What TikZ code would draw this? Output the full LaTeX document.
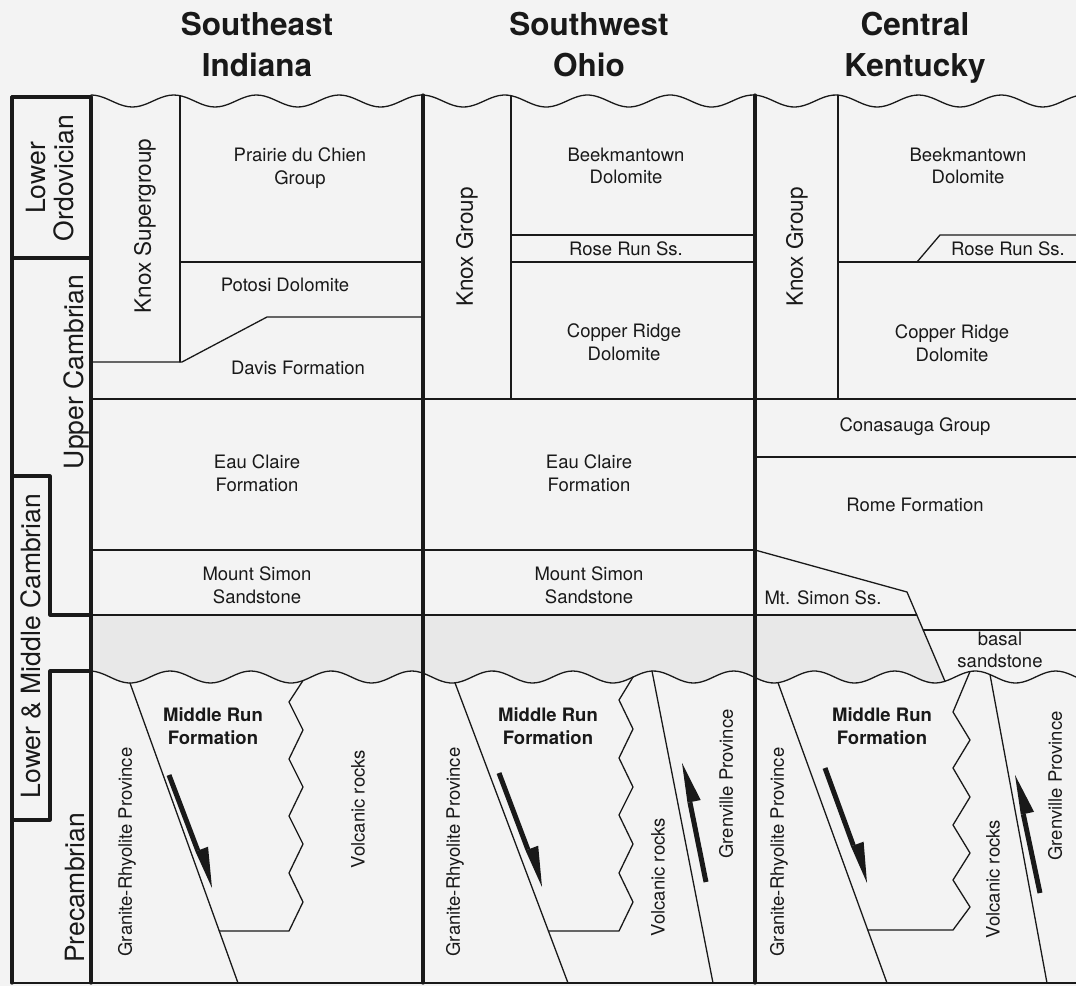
\documentclass[tikz,border=0pt]{standalone}
\usepackage{fontspec}
\setmainfont{TeX Gyre Heros}
\usepackage{tikz}
\definecolor{paper}{rgb}{0.953,0.953,0.953}
\definecolor{band}{rgb}{0.91,0.91,0.91}
\definecolor{ink}{rgb}{0.1,0.1,0.1}
\newcommand{\topwave}[1]{101-6*cos(((#1)-91)/82.75*360)}
\newcommand{\basewave}[1]{677+6*sin(((#1)-130)/80.5*360+90)}
\tikzset{
  bed/.style={line width=1.3pt},
  divide/.style={line width=3.2pt},
  shaft/.style={line width=5pt,line cap=butt},
  head/.style={inner sep=0pt,font=\fontsize{31.5}{41}\selectfont\bfseries},
  unit/.style={inner sep=0pt,align=center,font=\fontsize{18.5}{22.5}\selectfont},
  bunit/.style={unit,font=\fontsize{18.5}{22.5}\selectfont\bfseries},
  group/.style={inner sep=0pt,rotate=90,font=\fontsize{22.5}{27}\selectfont},
  period/.style={inner sep=0pt,rotate=90,align=center,font=\fontsize{26.5}{28}\selectfont},
  basement/.style={inner sep=0pt,rotate=90,font=\fontsize{18.5}{22.5}\selectfont}
}

\begin{document}
\begin{tikzpicture}[line cap=round,line join=round,x=1pt,y=-1pt,color=ink]
\fill[paper] (0,0) rectangle (1076,986);
\useasboundingbox (0,0) rectangle (1076,986);
% grey band under the basal sands
\fill[band] (91,615) -- (916.8,615) -- (945,{\basewave{945}}) -- plot[domain=945:91,samples=150,smooth] (\x,{\basewave{\x}}) -- cycle;
% headings
\node[head,anchor=base] (seA) at (257,35) {Southeast};
\node[head,anchor=base] (seB) at (257,76) {Indiana};
\node[head,anchor=base] (swA) at (589,35) {Southwest};
\node[head,anchor=base] (swB) at (589,76) {Ohio};
\node[head,anchor=base] (ckA) at (915,35) {Central};
\node[head,anchor=base] (ckB) at (915,76) {Kentucky};
% time column
\draw[divide] (12,97) -- (91,97);
\draw[divide] (12,97) -- (12,983);
\draw[divide] (91,97) -- (91,983);
\draw[divide] (12,258) -- (91,258);
\draw[divide] (12,476) -- (50,476) -- (50,615) -- (91,615);
\draw[divide] (91,{\basewave{91}}) -- (50,{\basewave{91}}) -- (50,820) -- (12,820);
\node[period] (ordo) at (50,178) {Lower\\Ordovician};
\node[period] (upcam) at (76,372) {Upper Cambrian};
\node[period] (lmcam) at (31,646) {Lower \& Middle Cambrian};
\node[period] (precam) at (75,888) {Precambrian};
% unconformities and frame
\draw[bed] plot[domain=91:1076,samples=240,smooth] (\x,{\topwave{\x}});
\draw[bed] plot[domain=91:1076,samples=240,smooth] (\x,{\basewave{\x}});
\draw[line width=1.8pt] (12,983) -- (1076,983);
\draw[divide] (423,{\topwave{423}}) -- (423,983);
\draw[divide] (755,{\topwave{755}}) -- (755,983);
% Southeast Indiana
\draw[bed] (180,{\topwave{180}}) -- (180,362);
\draw[bed] (180,262) -- (423,262);
\draw[bed] (91,362) -- (182,362) -- (267,317) -- (423,317);
\draw[bed] (91,399) -- (1076,399);
\draw[bed] (91,550) -- (755,550);
\draw[bed] (91,615) -- (755,615);
\node[group] (knoxA) at (145,226) {Knox Supergroup};
\node[unit] (prairie) at (300,168) {Prairie du Chien\\Group};
\node[unit] (potosi) at (285,285) {Potosi Dolomite};
\node[unit] (davis) at (298,368) {Davis Formation};
\node[unit] (eauA) at (257,473) {Eau Claire\\Formation};
\node[unit] (simonA) at (257,585) {Mount Simon\\Sandstone};
% Southwest Ohio
\draw[bed] (511,{\topwave{511}}) -- (511,399);
\draw[bed] (511,235) -- (755,235);
\draw[bed] (511,262) -- (755,262);
\node[group] (knoxB) at (467,247) {Knox Group};
\node[unit] (beekB) at (626,166) {Beekmantown\\Dolomite};
\node[unit] (roseB) at (626,249) {Rose Run Ss.};
\node[unit] (copperB) at (624,342) {Copper Ridge\\Dolomite};
\node[unit] (eauB) at (589,473) {Eau Claire\\Formation};
\node[unit] (simonB) at (589,585) {Mount Simon\\Sandstone};
% Central Kentucky
\draw[bed] (838,{\topwave{838}}) -- (838,399);
\draw[bed] (838,262) -- (1076,262);
\draw[bed] (917,262) -- (940,235) -- (1076,235);
\draw[bed] (755,457) -- (1076,457);
\draw[bed] (755,550) -- (907,592) -- (945,{\basewave{945}});
\draw[bed] (755,615) -- (916.8,615);
\draw[bed] (923.2,630) -- (1076,630);
\node[group] (knoxC) at (797,247) {Knox Group};
\node[unit] (beekC) at (968,166) {Beekmantown\\Dolomite};
\node[unit] (roseC) at (1008,249) {Rose Run Ss.};
\node[unit] (copperC) at (952,343) {Copper Ridge\\Dolomite};
\node[unit] (conasauga) at (915,427) {Conasauga Group};
\node[unit] (rome) at (915,505) {Rome Formation};
\node[unit] (simonC) at (823,598) {Mt. Simon Ss.};
\node[unit] (basal) at (1000,650) {basal\\sandstone};
% Precambrian basement
\draw[bed] (130,{\basewave{130}}) -- (238,983);
\draw[bed] (303,{\basewave{303}}) -- (289,702) -- (303,730) -- (289,759) -- (303,787) -- (289,816) -- (303,844) -- (289,873) -- (303,902) -- (289,931) -- (219.3,931);
\draw[shaft] (169,775) -- (197.77,850.61);
\fill (212,888) -- (208.05,846.70) -- (195.43,851.50) -- cycle;
\node[bunit] (runA) at (213,726) {Middle Run\\Formation};
\node[basement] (graniteA) at (127,852) {Granite-Rhyolite Province};
\node[basement] (volcA) at (358,809) {Volcanic rocks};
\draw[bed] (455,{\basewave{455}}) -- (568,983);
\draw[bed] (633,{\basewave{633}}) -- (619,700) -- (633,729) -- (619,758) -- (633,787) -- (619,815) -- (633,844) -- (619,873) -- (633,902) -- (619,931) -- (548.4,931);
\draw[bed] (652,{\basewave{652}}) -- (713,983);
\draw[shaft] (499,773) -- (527.88,849.57);
\fill (542,887) -- (538.17,845.69) -- (525.54,850.45) -- cycle;
\draw[shaft] (706,882) -- (689.91,802.21);
\fill (682,763) -- (700.69,800.03) -- (687.46,802.70) -- cycle;
\node[bunit] (runB) at (548,726) {Middle Run\\Formation};
\node[basement] (graniteB) at (455,852) {Granite-Rhyolite Province};
\node[basement] (volcB) at (658,877) {Volcanic rocks};
\node[basement] (grenB) at (726,784) {Grenville Province};
\draw[bed] (778,{\basewave{778}}) -- (887,983);
\draw[bed] (970,{\basewave{970}}) -- (953,712) -- (970,740) -- (953,768) -- (970,797) -- (953,825) -- (970,853) -- (953,880) -- (970,907) -- (953,930) -- (867.7,930);
\draw[bed] (990,{\basewave{990}}) -- (1047,983);
\draw[shaft] (825,768) -- (853.28,845.43);
\fill (867,883) -- (863.61,841.66) -- (850.93,846.29) -- cycle;
\draw[shaft] (1040,893) -- (1023.29,814.13);
\fill (1015,775) -- (1034.05,811.85) -- (1020.84,814.65) -- cycle;
\node[bunit] (runC) at (882,726) {Middle Run\\Formation};
\node[basement] (graniteC) at (779,852) {Granite-Rhyolite Province};
\node[basement] (volcC) at (993,879) {Volcanic rocks};
\node[basement] (grenC) at (1055,786) {Grenville Province};
\end{tikzpicture}
\end{document}
